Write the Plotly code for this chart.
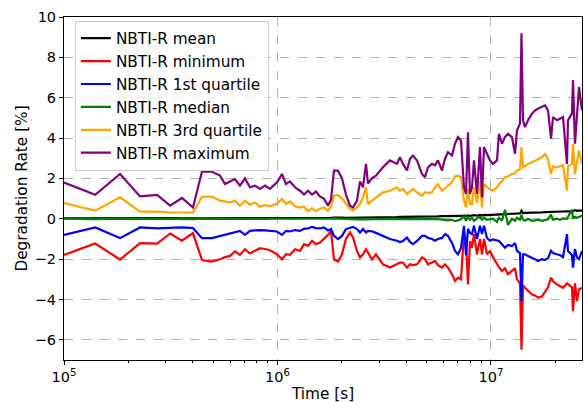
import plotly.graph_objects as go

# Time samples [s]
time_s = [
    1.00e5, 1.40e5, 1.83e5, 2.27e5, 2.73e5, 3.14e5, 3.57e5, 4.02e5, 4.43e5,
    4.93e5, 5.38e5, 5.68e5, 5.99e5, 6.32e5, 6.67e5, 7.04e5, 7.43e5, 7.85e5, 8.28e5, 8.74e5, 9.22e5,
    9.95e5, 1.050e6, 1.096e6, 1.144e6, 1.208e6, 1.275e6, 1.331e6, 1.390e6, 1.451e6, 1.515e6, 1.582e6, 1.651e6, 1.724e6, 1.781e6,
    1.839e6, 1.920e6, 2.005e6, 2.093e6, 2.186e6, 2.257e6, 2.357e6, 2.435e6, 2.515e6, 2.597e6, 2.653e6, 2.770e6, 2.893e6,
    3.120e6, 3.365e6, 3.628e6, 3.748e6, 3.871e6, 4.042e6, 4.175e6, 4.312e6, 4.502e6, 4.752e6, 4.908e6, 5.070e6, 5.293e6,
    5.467e6, 5.647e6, 5.896e6, 6.089e6, 6.290e6, 6.567e6,
    6.782e6, 7.005e6, 7.236e6, 7.474e6, 7.637e6, 7.804e6, 7.974e6, 8.148e6, 8.326e6, 8.600e6, 8.883e6, 9.076e6, 9.274e6,
    9.579e6, 9.893e6, 1.0219e7, 1.0669e7, 1.0902e7, 1.1260e7, 1.1631e7, 1.2014e7, 1.2544e7, 1.2956e7, 1.3240e7, 1.3675e7,
    1.3899e7,
    1.4125e7, 1.4434e7, 1.4909e7, 1.5567e7, 1.6079e7, 1.6608e7, 1.7340e7, 1.7910e7, 1.8500e7, 1.9108e7, 1.9525e7,
    2.0383e7, 2.1054e7, 2.1746e7, 2.2701e7, 2.2947e7, 2.3961e7, 2.4221e7, 2.4748e7, 2.5290e7, 2.5843e7, 2.6694e7,
]

nbti_mean = [
    0.02, 0.03, 0.03, 0.02, 0.02, 0.03, 0.02, 0.02, 0.05,
    0.05, 0.04, 0.03, 0.04, 0.03, 0.03, 0.04, 0.03, 0.03, 0.03, 0.03, 0.03,
    0.03, 0.04, 0.03, 0.03, 0.03, 0.03, 0.03, 0.04, 0.04, 0.04, 0.04, 0.04, 0.04, 0.04,
    0.06, 0.07, 0.06, 0.05, 0.05, 0.05, 0.05, 0.05, 0.06, 0.07, 0.06, 0.06, 0.07,
    0.07, 0.08, 0.08, 0.09, 0.09, 0.09, 0.10, 0.10, 0.10, 0.10, 0.11, 0.11, 0.12, 0.12, 0.12, 0.13, 0.13, 0.13, 0.14,
    0.15, 0.15, 0.16, 0.15, 0.14, 0.17, 0.14, 0.16, 0.18, 0.15, 0.19, 0.16, 0.19, 0.18, 0.19, 0.20, 0.20, 0.22, 0.22,
    0.23, 0.24, 0.24, 0.25, 0.26, 0.27,
    0.40,
    0.28, 0.29, 0.29, 0.30, 0.31, 0.31, 0.32, 0.33, 0.33, 0.34, 0.33, 0.35, 0.36, 0.36, 0.37, 0.36, 0.38, 0.38, 0.42,
    0.39, 0.40, 0.41, 0.42,
]

nbti_min = [
    -1.79, -1.23, -2.02, -1.21, -1.23, -0.73, -1.09, -0.71, -2.05,
    -2.12, -2.01, -1.90, -1.84, -1.62, -1.79, -1.51, -1.72, -1.60, -1.46, -1.50, -1.56,
    -1.76, -2.01, -1.76, -1.79, -1.51, -1.59, -1.26, -1.34, -1.09, -1.26, -1.18, -1.00, -0.80, -0.60,
    -2.01, -2.12, -1.76, -1.00, -0.68, -0.93, -1.59, -1.92, -1.76, -1.51, -1.70, -2.01, -1.76,
    -2.26, -2.42, -2.26, -2.17, -2.17, -2.42, -2.26, -2.30, -2.26, -1.92, -2.00, -2.26, -2.17, -2.09, -2.30, -2.42,
    -2.26, -2.42, -2.75,
    -3.08, -2.92, -3.00, -0.76, -1.10, -3.25, -1.10, -1.43, -0.76, -1.76, -1.00, -1.76, -1.00, -1.76, -1.60, -1.90,
    -2.26, -2.40, -2.59, -2.45, -2.75, -2.59, -2.45, -3.00, -3.20,
    -6.49,
    -3.30, -3.42, -3.55, -3.75, -3.80, -3.91, -3.85, -3.60, -3.40, -2.92, -3.10, -3.25, -3.35, -3.42, -3.20, -3.25,
    -3.40, -4.58, -3.20, -4.08, -3.50, -3.42,
]

nbti_q1 = [
    -0.80, -0.43, -0.96, -0.43, -0.48, -0.45, -0.43, -0.46, -0.96,
    -0.96, -0.85, -0.80, -0.73, -0.68, -0.60, -0.80, -0.60, -0.58, -0.56, -0.58, -0.60,
    -0.63, -0.80, -0.60, -0.63, -0.56, -0.60, -0.50, -0.48, -0.40, -0.46, -0.48, -0.43, -0.58, -0.51,
    -0.85, -1.01, -0.85, -0.51, -0.43, -0.40, -0.51, -0.68, -0.51, -0.68, -0.60, -0.62, -0.70,
    -0.85, -1.00, -1.09, -1.15, -1.10, -0.93, -1.15, -1.26, -1.10, -0.85, -0.85, -0.95, -1.00, -1.09, -1.00, -0.95,
    -0.76, -0.85, -1.20,
    -1.59, -1.76, -1.45, -0.35, -1.80, -0.50, -0.70, -0.76, -0.35, -1.00, -0.35, -0.76, -0.35, -0.95, -1.09, -1.02,
    -1.05, -1.10, -1.26, -1.43, -1.30, -1.35, -1.20, -1.59, -1.70,
    -4.08,
    -1.76, -1.76, -1.85, -1.92, -2.00, -2.09, -2.00, -2.05, -1.95, -1.59, -1.70, -1.76, -1.80, -1.90, -0.76, -1.60,
    -1.80, -2.42, -1.50, -1.92, -2.00, -1.60,
]

nbti_median = [
    0.00, -0.02, 0.01, -0.02, -0.01, -0.01, -0.02, -0.02, 0.01,
    0.00, 0.00, -0.01, 0.00, -0.01, 0.00, -0.01, 0.00, -0.01, 0.00, -0.01, 0.00,
    0.00, 0.01, 0.00, -0.01, 0.00, -0.01, 0.00, -0.01, 0.00, -0.01, 0.00, -0.01, -0.02, 0.00,
    0.02, 0.01, 0.00, -0.03, -0.05, -0.04, -0.03, -0.03, -0.02, 0.00, -0.03, -0.02, -0.02,
    -0.02, -0.01, -0.02, -0.01, 0.00, -0.02, -0.01, 0.00, -0.01, -0.02, 0.00, 0.01, -0.01, 0.00, -0.02, -0.04,
    -0.06, -0.08, -0.05,
    -0.12, -0.08, -0.03, 0.15, -0.10, 0.10, -0.05, 0.05, -0.10, 0.02, 0.10, -0.05, 0.05, -0.05, -0.02, 0.00,
    -0.15, 0.05, -0.10, 0.45, -0.30, 0.00, -0.10, 0.05, -0.05,
    0.20,
    -0.05, -0.10, 0.00, -0.10, -0.08, -0.05, -0.10, -0.05, -0.02, 0.20, -0.05, 0.00, -0.05, 0.02, 0.00, 0.10,
    0.45, 0.00, 0.10, 0.05, 0.10, 0.15,
]

nbti_q3 = [
    0.78, 0.40, 1.06, 0.35, 0.36, 0.31, 0.31, 0.30, 1.09,
    1.09, 0.90, 0.85, 0.81, 0.90, 0.65, 0.90, 0.70, 0.81, 0.60, 0.68, 0.62,
    0.76, 0.98, 0.73, 0.86, 0.62, 0.55, 0.60, 0.38, 0.53, 0.38, 0.50, 0.56, 0.40, 0.60,
    1.14, 1.18, 1.00, 0.75, 0.50, 0.40, 0.56, 0.73, 1.06, 1.56, 0.73, 0.90, 1.06,
    1.31, 1.39, 1.56, 1.39, 1.48, 1.23, 1.35, 1.48, 1.30, 1.14, 1.31, 1.28, 1.31, 1.56, 1.72, 1.39,
    1.50, 1.64, 1.81,
    2.10, 2.14, 2.06, 0.90, 0.56, 1.50, 0.73, 0.73, 1.56, 0.80, 1.89, 0.56, 1.70, 1.55, 1.45, 1.39,
    1.55, 1.72, 1.85, 2.06, 2.10, 2.22, 2.25, 2.39, 2.45,
    3.55,
    2.55, 2.60, 2.72, 2.80, 2.89, 2.95, 3.05, 3.22, 2.95, 2.22, 2.60, 2.55, 2.60, 2.65, 1.39, 2.60,
    2.72, 3.72, 2.22, 2.90, 3.38, 2.72,
]

nbti_max = [
    1.80, 1.19, 2.22, 1.11, 1.18, 0.65, 1.03, 0.56, 2.34,
    2.33, 2.14, 1.72, 1.85, 1.97, 1.64, 2.00, 1.56, 1.64, 1.48, 1.64, 1.48,
    1.81, 2.22, 1.72, 1.85, 1.56, 1.39, 1.20, 1.39, 1.20, 1.35, 1.10, 1.00, 0.65, 0.95,
    2.39, 2.39, 2.00, 1.20, 0.65, 0.56, 0.90, 1.85, 1.56, 2.72, 1.75, 2.00, 2.14,
    2.55, 2.89, 2.72, 3.05, 2.72, 2.39, 2.97, 3.13, 2.89, 2.22, 2.06, 2.55, 2.72, 2.65, 2.89, 2.39,
    2.97, 3.30, 3.13,
    3.72, 4.05, 3.88, 1.56, 1.23, 4.29, 1.23, 1.56, 2.89, 1.23, 3.55, 1.06, 3.55, 3.22, 2.89, 2.72,
    2.89, 4.21, 3.72, 4.05, 4.21, 4.05, 3.22, 4.38, 4.71,
    9.19,
    4.88, 4.54, 4.88, 5.21, 5.37, 5.45, 5.54, 5.62, 5.37, 3.97, 5.04, 4.88, 4.96, 5.04, 2.72, 4.88,
    5.21, 6.87, 3.72, 5.21, 6.53, 5.37,
]

series_names = ["NBTI-R mean", "NBTI-R minimum", "NBTI-R 1st quartile",
                "NBTI-R median", "NBTI-R 3rd quartile", "NBTI-R maximum"]
series_values = [nbti_mean, nbti_min, nbti_q1, nbti_median, nbti_q3, nbti_max]
series_colors = ["#000000", "#ff0000", "#0000ff", "#008000", "#ffa500", "#800080"]

x_tick_vals = [1e5, 1e6, 1e7]
x_tick_text = ["10<sup>5</sup>", "10<sup>6</sup>", "10<sup>7</sup>"]
x_minor_vals = [2e5, 3e5, 4e5, 5e5, 6e5, 7e5, 8e5, 9e5,
                2e6, 3e6, 4e6, 5e6, 6e6, 7e6, 8e6, 9e6, 2e7]
y_ticks = [-6, -4, -2, 0, 2, 4, 6, 8, 10]

fig = go.Figure()
for name, vals, col in zip(series_names, series_values, series_colors):
    fig.add_trace(go.Scatter(x=time_s, y=vals, mode="lines", name=name,
                             line=dict(color=col, width=2.2)))

font_family = "DejaVu Sans"
fig.update_layout(
    width=584, height=403,
    margin=dict(l=64, r=2, t=17, b=43),
    paper_bgcolor="white", plot_bgcolor="white",
    font=dict(family=font_family, size=14, color="black"),
    showlegend=True,
    legend=dict(
        x=0.021, y=0.989, xanchor="left", yanchor="top",
        bgcolor="rgba(255,255,255,0.8)", bordercolor="#cccccc", borderwidth=1,
        font=dict(family=font_family, size=15.3, color="black"),
        tracegroupgap=0,
    ),
)
fig.update_xaxes(
    type="log", range=[5, 7.4264], automargin=False,
    tickvals=x_tick_vals, ticktext=x_tick_text,
    ticks="outside", ticklen=4, tickwidth=1, tickcolor="black",
    showline=True, linecolor="black", linewidth=1, mirror=True,
    showgrid=True, gridcolor="#b0b0b0", griddash="dash", gridwidth=1,
    zeroline=False,
    minor=dict(ticks="outside", ticklen=2, tickcolor="black", showgrid=False,
               tickvals=x_minor_vals),
    title=dict(text="Time [s]", font=dict(size=15.3), standoff=6),
    tickfont=dict(size=14.5),
)
fig.update_yaxes(
    range=[-7, 10], tickvals=y_ticks, automargin=False,
    ticks="outside", ticklen=4, tickwidth=1, tickcolor="black",
    showline=True, linecolor="black", linewidth=1, mirror=True,
    showgrid=True, gridcolor="#b0b0b0", griddash="dash", gridwidth=1,
    zeroline=False,
    title=dict(text="Degradation Rate [%]", font=dict(size=15.3), standoff=3),
    tickfont=dict(size=14.5),
)

# remove the default page margin so the figure fills the 584x403 window exactly
fig.write_html("out.html",
               config={"displayModeBar": False},
               post_script="document.body.style.margin='0';document.body.style.overflow='hidden';")
